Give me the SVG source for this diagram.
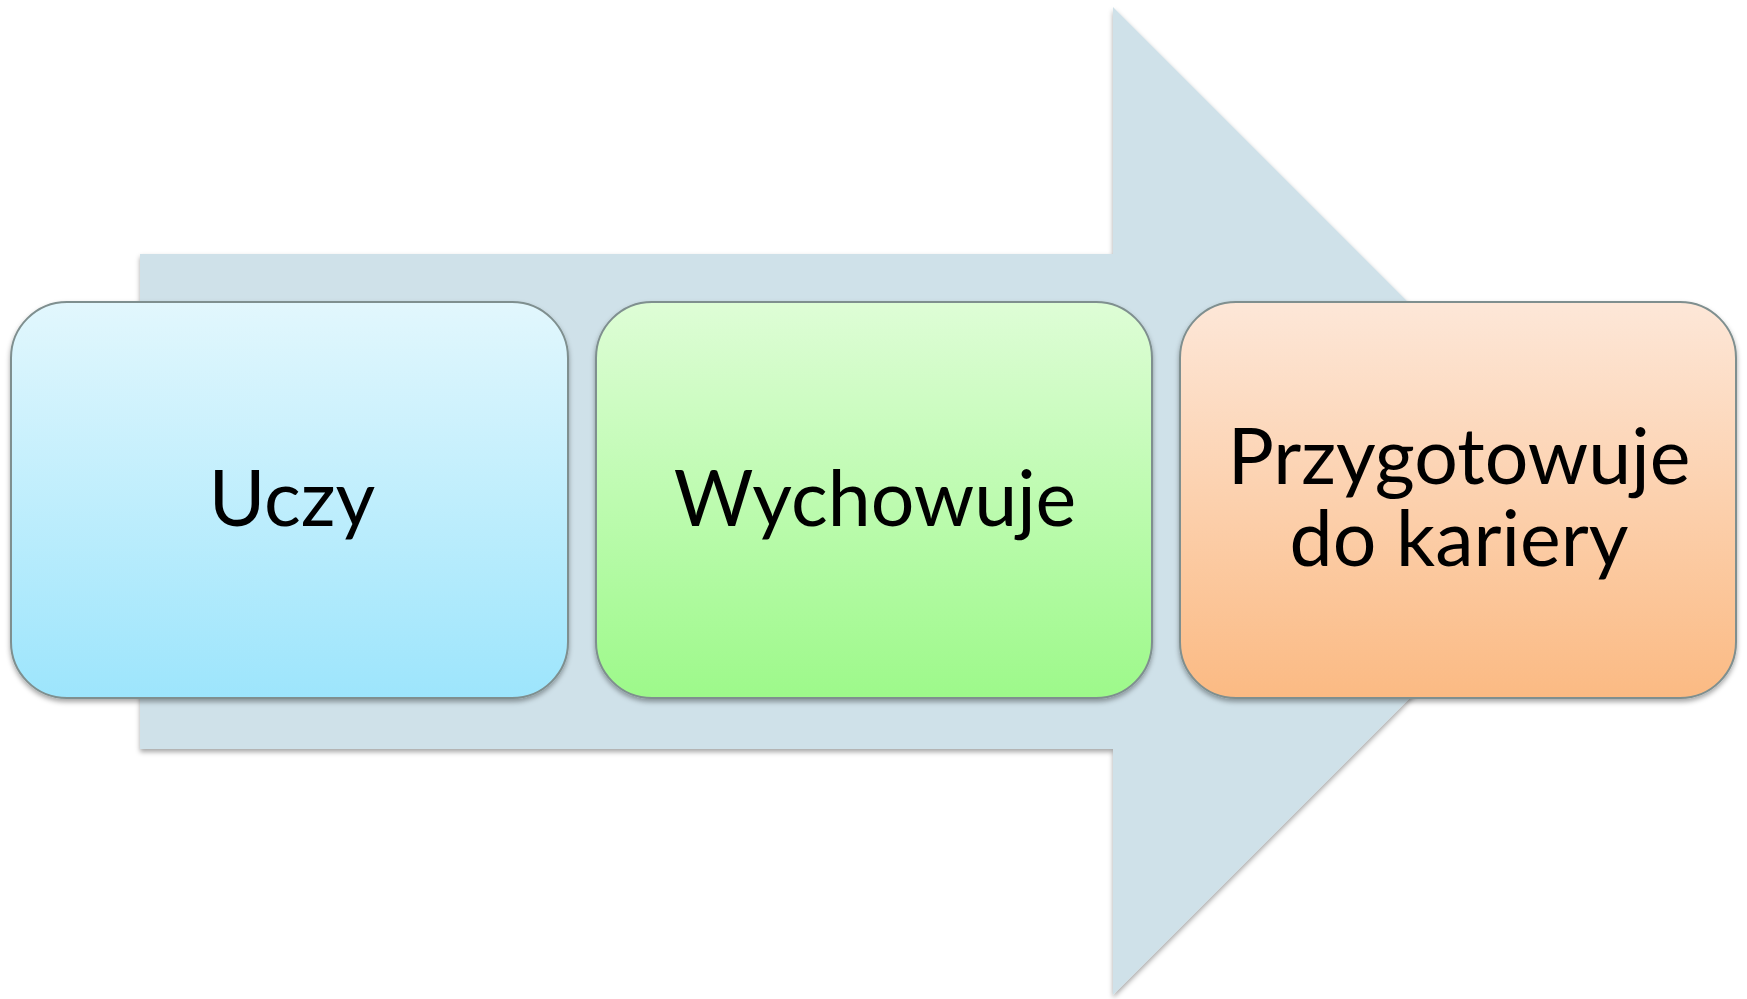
<svg xmlns="http://www.w3.org/2000/svg" width="1747" height="999" viewBox="0 0 1747 999">
<defs>
<linearGradient id="g1" x1="0" y1="0" x2="0" y2="1"><stop offset="0" stop-color="#e2f7fd"/><stop offset="1" stop-color="#9de5fc"/></linearGradient>
<linearGradient id="g2" x1="0" y1="0" x2="0" y2="1"><stop offset="0" stop-color="#defdd6"/><stop offset="1" stop-color="#9df98a"/></linearGradient>
<linearGradient id="g3" x1="0" y1="0" x2="0" y2="1"><stop offset="0" stop-color="#fde7d8"/><stop offset="1" stop-color="#fbba83"/></linearGradient>
<filter id="sh" x="-5%" y="-5%" width="110%" height="115%"><feDropShadow dx="0" dy="3" stdDeviation="2.5" flood-color="#000" flood-opacity="0.35"/></filter>
</defs>
<style>
.box{stroke:#7f8f8f;stroke-width:2;filter:url(#sh)}
.t{font-family:Lato,"Open Sans","Liberation Sans",sans-serif;font-size:77px;fill:#000;text-anchor:middle}
</style>
<g id="connectors">
<polygon points="140,254 1113,254 1113,7 1607,501 1113,995 1113,749 140,749" fill="#cfe1e9" filter="url(#sh)"/>
</g>
<g id="n1">
<rect class="box" x="11" y="302" width="557" height="396" rx="56" fill="url(#g1)"/>
<text class="t" x="292" y="526">Uczy</text>
</g>
<g id="n2">
<rect class="box" x="596" y="302" width="556" height="396" rx="56" fill="url(#g2)"/>
<text class="t" x="875" y="526">Wychowuje</text>
</g>
<g id="n3">
<rect class="box" x="1180" y="302" width="556" height="396" rx="56" fill="url(#g3)"/>
<text class="t" x="1459" y="484">Przygotowuje</text>
<text class="t" x="1459" y="566">do kariery</text>
</g>
</svg>
